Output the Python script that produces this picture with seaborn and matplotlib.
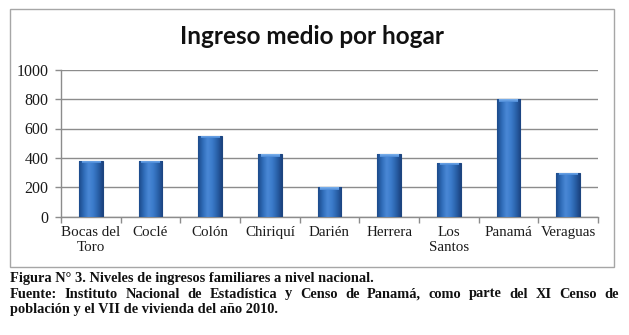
import numpy as np
import pandas as pd
import matplotlib
matplotlib.use("Agg")
import matplotlib.pyplot as plt
from matplotlib.colors import LinearSegmentedColormap
from matplotlib.patches import Rectangle
import seaborn as sns

# Mean household income by province (2010 census)
provincias = ["Bocas del\nToro", "Coclé", "Colón", "Chiriquí", "Darién",
              "Herrera", "Los\nSantos", "Panamá", "Veraguas"]
ingreso = [380, 380, 550, 425, 200, 425, 367, 800, 300]
y_ticks = [0, 200, 400, 600, 800, 1000]

titulo = "Ingreso medio por hogar"
pie_1 = "Figura N° 3. Niveles de ingresos familiares a nivel nacional."
pie_2 = ("Fuente: Instituto Nacional de Estadística y Censo de Panamá, "
         "como parte del XI Censo de")
pie_3 = "población y el VII de vivienda del año 2010."

df = pd.DataFrame({"provincia": provincias, "ingreso": ingreso})

sns.set_theme(style="white")
plt.rcParams["font.family"] = ["Liberation Serif", "DejaVu Serif"]

W, H = 629, 335
fig = plt.figure(figsize=(W / 100, H / 100), dpi=100)
fig.patch.set_facecolor("white")

# chart frame
fig.patches.append(Rectangle((10 / W, 1 - 267 / H), 604 / W, 258 / H,
                             transform=fig.transFigure, fill=False,
                             edgecolor="#a6a6a6", linewidth=1.0))

ax = fig.add_axes([61 / W, 1 - 216.7 / H, 537 / W, 147 / H])
sns.barplot(data=df, x="provincia", y="ingreso", ax=ax, width=0.40,
            color="#2f6cb8", edgecolor="#1d457f", linewidth=0.8, zorder=3)

# cylindrical shading on every bar
shade = LinearSegmentedColormap.from_list(
    "shade", ["#1d4a8a", "#2f6cb8", "#4a88d6", "#3b7bca", "#2a62aa", "#1b4380"])
grad = np.linspace(0, 1, 64).reshape(1, -1)
cap = LinearSegmentedColormap.from_list("cap", ["#7fb4ee", "#4a88d6"])
for p in ax.patches:
    x0, y0 = p.get_x(), p.get_y()
    w, h = p.get_width(), p.get_height()
    im = ax.imshow(grad, cmap=shade, aspect="auto", zorder=3.5,
                   extent=[x0, x0 + w, y0, y0 + h], interpolation="bicubic")
    im.set_clip_path(p)
    ch = 18  # top highlight band in data units
    top = ax.imshow(np.linspace(0, 1, 16).reshape(-1, 1), cmap=cap,
                    aspect="auto", zorder=3.6, interpolation="bicubic",
                    extent=[x0 + w * 0.12, x0 + w * 0.88, y0 + h - ch, y0 + h - 2])
    top.set_clip_path(p)

ax.set_xlim(-0.5, len(provincias) - 0.5)
ax.set_ylim(0, 1000)
ax.set_yticks(y_ticks)
ax.set_yticklabels([str(v) for v in y_ticks])
ax.set_xlabel("")
ax.set_ylabel("")

ax.yaxis.grid(True, color="#8c8c8c", linewidth=1.0, zorder=0)
ax.set_axisbelow(True)
for s in ["top", "right"]:
    ax.spines[s].set_visible(False)
for s in ["left", "bottom"]:
    ax.spines[s].set_color("#8c8c8c")
    ax.spines[s].set_linewidth(1.0)

# category boundary ticks on the x axis
ax.set_xticks(np.arange(len(provincias)), labels=provincias)
ax.set_xticks(np.arange(-0.5, len(provincias)), minor=True)
ax.tick_params(axis="x", which="major", length=0, pad=7, labelsize=10.8,
               labelcolor="#1a1a1a")
ax.tick_params(axis="x", which="minor", length=4, width=1.0, color="#8c8c8c",
               direction="out", bottom=True)
ax.tick_params(axis="y", length=4, width=1.0, color="#8c8c8c",
               direction="out", left=True, pad=5, labelsize=11.5,
               labelcolor="#1a1a1a")
for lab in ax.get_xticklabels():
    lab.set_linespacing(1.2)
    lab.set_verticalalignment("top")

fig.text(312 / W, 1 - 37 / H, titulo, ha="center", va="center",
         fontsize=17.5, fontweight="bold", color="#111111",
         family=["Lato", "DejaVu Sans"])

# caption below the chart frame; the middle line is justified
cap_kw = dict(fontsize=10.4, fontweight="bold", color="#111111",
              family=["Liberation Serif", "DejaVu Serif"], va="baseline")
fig.text(10 / W, 1 - 282 / H, pie_1, ha="left", **cap_kw)
fig.text(10 / W, 1 - 313 / H, pie_3, ha="left", **cap_kw)

renderer = fig.canvas.get_renderer()
words = pie_2.split(" ")
arts = [fig.text(0, 1 - 297.5 / H, wd, ha="left", **cap_kw) for wd in words]
widths = [a.get_window_extent(renderer).width for a in arts]
left_px, right_px = 10, 619
gap = (right_px - left_px - sum(widths)) / (len(words) - 1)
xpos = left_px
for a, wdt in zip(arts, widths):
    a.set_x(xpos / W)
    xpos += wdt + gap

fig.savefig("out.png", dpi=100, facecolor="white")
